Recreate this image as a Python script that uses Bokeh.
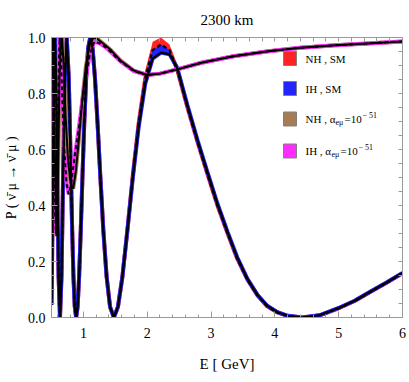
from bokeh.plotting import figure
from bokeh.models import (Range1d, LinearAxis, Label, BoxAnnotation, FixedTicker,
                          SingleIntervalTicker, NumeralTickFormatter)
from bokeh.embed import file_html
from bokeh.resources import INLINE

# ---------------- data ----------------
title_text = "2300 km"
x_label = "E [ GeV]"
y_label = "P ( \u03bd\u0304 \u03bc \u2192 \u03bd\u0304 \u03bc )"

sm_E = [0.5, 0.5064, 0.5213, 0.5371, 0.5539, 0.5717, 0.5908, 0.6112, 0.633, 0.6564,
        0.6817, 0.709, 0.7385, 0.7706, 0.8056, 0.8244, 0.844, 0.8646, 0.8862, 0.9089,
        0.9328, 0.9581, 0.9847, 1.0128, 1.0426, 1.0742, 1.1078, 1.1435, 1.1816, 1.2223,
        1.266, 1.3129, 1.3634, 1.4179, 1.477, 1.5412, 1.6113, 1.688, 1.7724, 1.8657,
        1.9693, 2.0852, 2.2155, 2.35, 2.47, 2.63, 2.79, 2.94, 3.1, 3.26,
        3.41, 3.57, 3.73, 3.88, 4.04, 4.2, 4.43, 4.7, 5.0, 5.25,
        5.5, 5.75, 6.0]
sm_nh = [0.046, 0.146, 0.5, 0.854, 1.0, 0.854, 0.5, 0.146, 0.0, 0.146,
         0.5, 0.854, 1.0, 0.854, 0.5, 0.309, 0.146, 0.038, 0.0, 0.038,
         0.146, 0.309, 0.5, 0.691, 0.854, 0.962, 1.0, 0.962, 0.854, 0.691,
         0.5, 0.309, 0.146, 0.038, 0.0, 0.038, 0.146, 0.309, 0.505, 0.695,
         0.855, 0.955, 0.975, 0.955, 0.885, 0.75, 0.625, 0.515, 0.40, 0.30,
         0.21, 0.135, 0.078, 0.04, 0.018, 0.006, 0.0, 0.008, 0.033, 0.059,
         0.092, 0.124, 0.158]
sm_ih = [0.046, 0.146, 0.5, 0.854, 1.0, 0.854, 0.5, 0.146, 0.0, 0.146,
         0.5, 0.854, 1.0, 0.854, 0.5, 0.309, 0.146, 0.038, 0.0, 0.038,
         0.146, 0.309, 0.5, 0.691, 0.854, 0.962, 1.0, 0.962, 0.854, 0.691,
         0.5, 0.309, 0.146, 0.038, 0.0, 0.038, 0.146, 0.309, 0.495, 0.68,
         0.835, 0.925, 0.946, 0.94, 0.892, 0.758, 0.632, 0.522, 0.407, 0.305,
         0.215, 0.138, 0.08, 0.042, 0.019, 0.006, 0.0, 0.008, 0.034, 0.06,
         0.093, 0.125, 0.159]

# spread of the SM bands around the first maximum
peak_E = [1.9693, 2.0852, 2.2155, 2.35, 2.47]
nh_band_lo = [0.855, 0.955, 0.975, 0.955, 0.885]
nh_band_hi = [0.872, 0.985, 1.0, 0.975, 0.893]
ih_band_lo = [0.835, 0.925, 0.946, 0.94, 0.885]
ih_band_hi = [0.855, 0.955, 0.975, 0.955, 0.895]

alpha_nh_E = [0.5, 0.512, 0.525, 0.54, 0.555, 0.57, 0.58, 0.59, 0.605, 0.625,
              0.645, 0.665, 0.69, 0.72, 0.76, 0.80, 0.84, 0.88, 0.93, 0.98,
              1.04, 1.1, 1.16, 1.22, 1.3, 1.43, 1.58, 1.79, 2.0, 2.2,
              2.5, 2.85, 3.35, 3.9, 4.4, 4.95, 5.45, 6.0]
alpha_nh = [0.8, 0.95, 1.0, 0.85, 0.55, 0.33, 0.29, 0.33, 0.55, 0.85,
            0.98, 1.0, 0.9, 0.72, 0.56, 0.48, 0.46, 0.52, 0.64, 0.77,
            0.9, 0.975, 1.0, 0.995, 0.98, 0.955, 0.918, 0.882, 0.866, 0.871,
            0.888, 0.91, 0.933, 0.951, 0.963, 0.972, 0.979, 0.986]

alpha_ih_E = [0.5, 0.51, 0.525, 0.54, 0.555, 0.568, 0.58, 0.595, 0.612, 0.628,
              0.645, 0.67, 0.7, 0.735, 0.77, 0.81, 0.86, 0.93, 1.0, 1.04,
              1.1, 1.17, 1.25, 1.35, 1.43, 1.58, 1.79, 2.0, 2.2, 2.5,
              2.85, 3.35, 3.9, 4.4, 4.95, 5.45, 6.0]
alpha_ih = [0.9, 1.0, 0.85, 0.6, 0.38, 0.3, 0.36, 0.6, 0.88, 1.0,
            0.95, 0.78, 0.6, 0.48, 0.44, 0.48, 0.57, 0.68, 0.8, 0.86,
            0.94, 0.985, 0.98, 0.965, 0.948, 0.915, 0.88, 0.866, 0.871, 0.888,
            0.91, 0.933, 0.951, 0.963, 0.972, 0.979, 0.986]

legend_main = ["NH , SM", "IH , SM", "NH , \u03b1", "IH , \u03b1"]
legend_sub = "e\u03bc"
legend_eq = "=10"
legend_sup = "\u2212 51"

RED = "#ff2424"
BLUE = "#2424ff"
BROWN = "#a67c52"
MAGENTA = "#ff2cff"
legend_colors = [RED, BLUE, BROWN, MAGENTA]

FONT = "Liberation Serif"
GREY = "#9a9a9a"

X0, X1 = 0.5, 6.0
Y0, Y1 = 0.0, 1.0

# ---------------- figure ----------------
p = figure(width=408, height=381, x_range=Range1d(X0, X1), y_range=Range1d(Y0, Y1),
           output_backend="svg", toolbar_location=None,
           min_border_left=51, min_border_right=6, min_border_top=37, min_border_bottom=64)
p.grid.visible = False
p.outline_line_color = GREY
p.background_fill_color = "white"
p.border_fill_color = "white"

bottom_ax = p.below[0]
left_ax = p.left[0]

bottom_ax.ticker = SingleIntervalTicker(interval=1, num_minor_ticks=5)
left_ax.ticker = SingleIntervalTicker(interval=0.2, num_minor_ticks=4)
bottom_ax.formatter = NumeralTickFormatter(format="0")
left_ax.formatter = NumeralTickFormatter(format="0.0")

for ax in [bottom_ax, left_ax]:
    ax.axis_line_color = GREY
    ax.major_tick_line_color = GREY
    ax.minor_tick_line_color = GREY
    ax.major_tick_in = 6
    ax.major_tick_out = 0
    ax.minor_tick_in = 3
    ax.minor_tick_out = 0
    ax.major_label_text_font = FONT
    ax.major_label_text_font_size = "14px"
    ax.major_label_text_color = "black"
    ax.axis_label_text_font = FONT
    ax.axis_label_text_font_style = "normal"
    ax.axis_label_text_color = "black"

bottom_ax.major_label_standoff = 10
left_ax.major_label_standoff = 6
bottom_ax.axis_label = x_label
bottom_ax.axis_label_text_font_size = "15px"
bottom_ax.axis_label_standoff = 15
left_ax.axis_label = y_label
left_ax.axis_label_text_font_size = "14px"
left_ax.axis_label_standoff = 6

# mirrored tick marks on the top and right edges (no labels)
top_ticks = [round(0.6 + 0.2 * i, 2) for i in range(28)]
right_ticks = [round(0.05 * i, 2) for i in range(21)]
top_ax = LinearAxis(ticker=FixedTicker(ticks=[], minor_ticks=top_ticks))
right_ax = LinearAxis(ticker=FixedTicker(ticks=[], minor_ticks=right_ticks))
for ax in [top_ax, right_ax]:
    ax.axis_line_color = GREY
    ax.minor_tick_line_color = GREY
    ax.minor_tick_in = 4
    ax.minor_tick_out = 0
    ax.major_tick_in = 0
    ax.major_tick_out = 0
    ax.major_label_standoff = 0
p.add_layout(top_ax, "above")
p.add_layout(right_ax, "right")

p.title.text = title_text
p.title.align = "center"
p.title.text_font = FONT
p.title.text_font_size = "15px"
p.title.text_font_style = "normal"
p.title.text_color = "black"
p.title.standoff = 19

# ---------------- curves ----------------
p.line(sm_E, sm_nh, line_color=RED, line_width=4)
p.line(sm_E, sm_ih, line_color=BLUE, line_width=4)
p.varea(x=peak_E, y1=nh_band_lo, y2=nh_band_hi, fill_color=RED)
p.varea(x=peak_E, y1=ih_band_lo, y2=ih_band_hi, fill_color=BLUE)

p.line(alpha_nh_E, alpha_nh, line_color=BROWN, line_width=4)
p.line(alpha_ih_E, alpha_ih, line_color=MAGENTA, line_width=4)

p.line(sm_E, sm_ih, line_color="black", line_width=2.2)
p.line(sm_E, sm_nh, line_color="black", line_width=2.2, line_dash="4 3")
p.line(alpha_nh_E, alpha_nh, line_color="black", line_width=2)
p.line(alpha_ih_E, alpha_ih, line_color="black", line_width=2, line_dash="4 3")

# ---------------- legend (placed in data units) ----------------
px_x = (X1 - X0) / 351.0
px_y = (Y1 - Y0) / 280.0
row_y = [259, 229, 198.5, 166.5]
sub_x = [284, 280]
for i, (lab, col) in enumerate(zip(legend_main, legend_colors)):
    yc = Y0 + row_y[i] * px_y
    p.add_layout(BoxAnnotation(left=X0 + 232 * px_x, right=X0 + 245 * px_x,
                               bottom=yc - 7 * px_y, top=yc + 7 * px_y,
                               fill_color=col, fill_alpha=1.0,
                               line_color="#808080", line_width=1, line_alpha=1.0))
    p.add_layout(Label(x=X0 + 254 * px_x, y=yc, text=lab,
                       text_baseline="middle", text_font=FONT, text_font_size="11px",
                       text_color="black"))
    if i >= 2:
        sx = X0 + sub_x[i - 2] * px_x
        p.add_layout(Label(x=sx, y=yc - 3 * px_y, text=legend_sub,
                           text_baseline="middle", text_font=FONT,
                           text_font_size="8px", text_color="black"))
        p.add_layout(Label(x=sx + 9 * px_x, y=yc, text=legend_eq,
                           text_baseline="middle", text_font=FONT,
                           text_font_size="11px", text_color="black"))
        p.add_layout(Label(x=sx + 27 * px_x, y=yc + 4 * px_y, text=legend_sup,
                           text_baseline="middle", text_font=FONT,
                           text_font_size="8px", text_color="black"))

open("out.html", "w").write(file_html(p, INLINE))
